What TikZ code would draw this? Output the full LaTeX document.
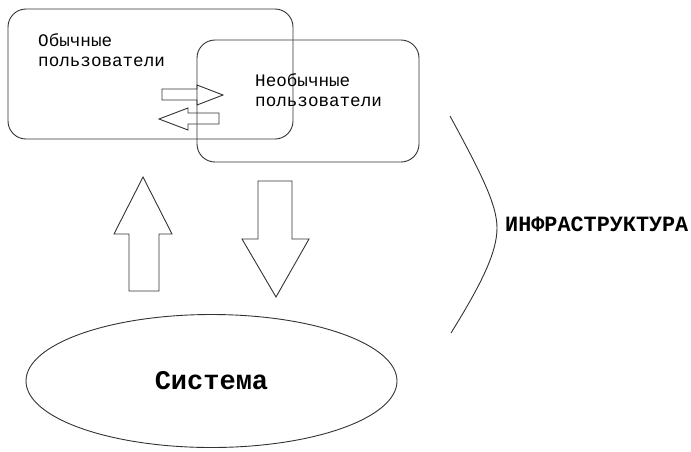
\documentclass[tikz,border=0pt]{standalone}
\usepackage{fontspec}
\setmainfont{Liberation Mono}
\usetikzlibrary{positioning,shapes.geometric}
\tikzset{
  outline/.style={draw=black!80, line width=0.9pt},
  userbox/.style={outline, rounded corners=18pt, inner sep=0pt},
  usertext/.style={anchor=north west, inner sep=0pt, align=left,
                   font=\fontsize{17.6}{20}\selectfont},
  blockarrow/.style={outline, line join=miter}
}

\begin{document}
\begin{tikzpicture}[x=1pt, y=-1pt]
    \useasboundingbox (0,0) rectangle (691,451);
    % user groups
    \node[userbox, minimum width=285pt, minimum height=130pt] (usual) at (150.5,74) {};
    \node[userbox, minimum width=222pt, minimum height=122pt] (unusual) at (308,101) {};
    \node[usertext] (usualtxt) at (38,33) {Обычные\\пользователи};
    \node[usertext] (unusualtxt) at (255,73) {Необычные\\пользователи};
    % small exchange arrows
    \draw[blockarrow] (162,89) -- (197,89) -- (197,85) -- (223,95) -- (197,105)
        -- (197,100) -- (162,100) -- cycle;
    \draw[blockarrow] (219,113) -- (188,113) -- (188,108) -- (159,119) -- (188,130)
        -- (188,124) -- (219,124) -- cycle;
    % system
    \node[ellipse, outline, minimum width=371pt, minimum height=133pt, inner sep=0pt,
          font=\bfseries\fontsize{27}{30}\selectfont] (system) at (211.5,381) {Система};
    % big arrows
    \draw[blockarrow] (129,291) -- (129,234) -- (114,234) -- (143,177) -- (172,234)
        -- (159,234) -- (159,291) -- cycle;
    \draw[blockarrow] (258,181) -- (292,181) -- (292,239) -- (309,239) -- (276,297)
        -- (242,239) -- (258,239) -- cycle;
    % infrastructure
    \coordinate (bracetop) at (450,116);
    \coordinate (bracemid) at (497,228);
    \coordinate (bracebot) at (451,333);
    \draw[outline] (bracetop) .. controls (482,175) and (497,205) .. (bracemid)
        .. controls (497,252) and (482,283) .. (bracebot);
    \node[anchor=west, inner sep=0pt, font=\bfseries\fontsize{21.8}{24}\selectfont]
        (infra) at (505,224) {ИНФРАСТРУКТУРА};
\end{tikzpicture}
\end{document}
